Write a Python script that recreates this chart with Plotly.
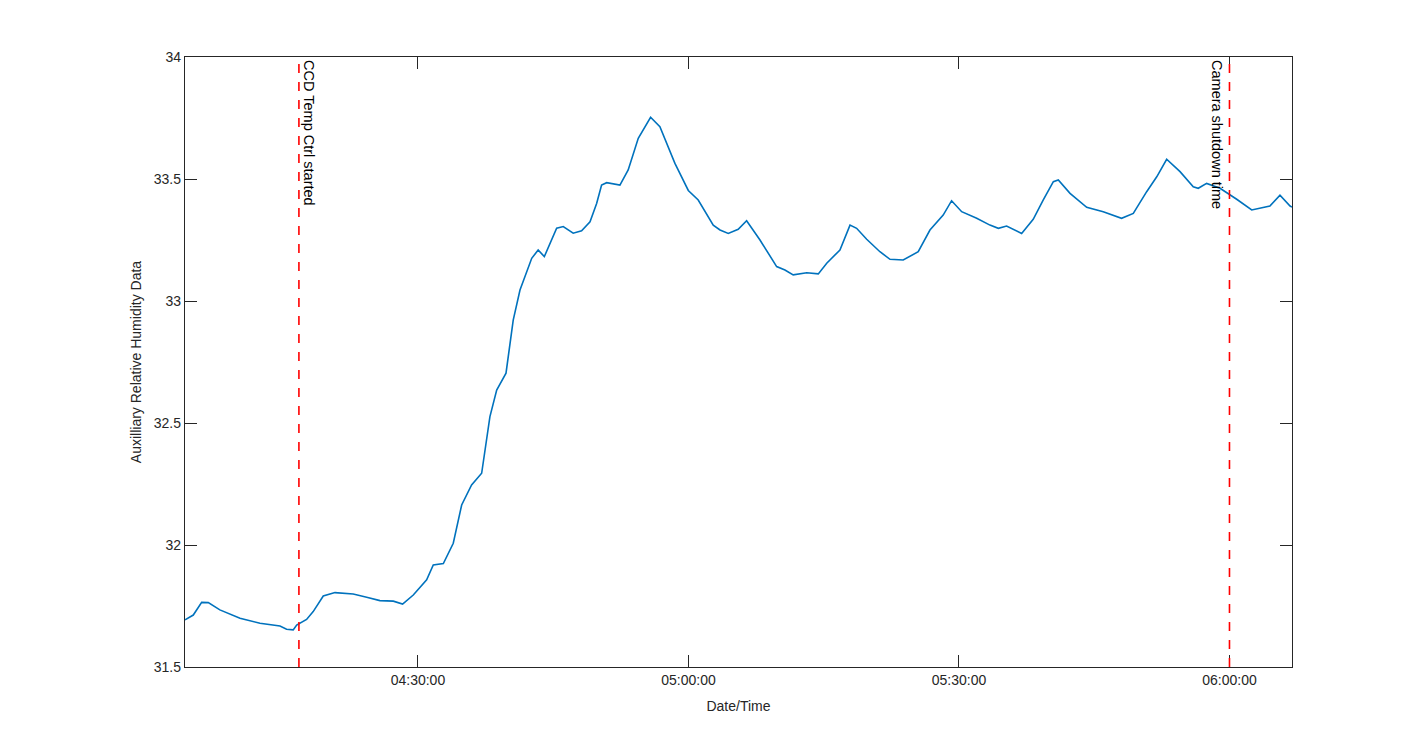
import plotly.graph_objects as go

# humidity readings (time of day, %RH)
times = [
    "04:04:10", "04:05:05", "04:06:01", "04:06:45", "04:08:02", "04:10:16", "04:12:29",
    "04:14:42", "04:15:26", "04:16:10", "04:16:33", "04:17:39", "04:18:23", "04:19:30",
    "04:20:48", "04:22:49", "04:24:19", "04:25:47", "04:27:16", "04:28:18", "04:29:29",
    "04:30:58", "04:31:42", "04:32:49", "04:33:55", "04:34:51", "04:35:57", "04:37:04",
    "04:37:59", "04:38:44", "04:39:46", "04:40:34", "04:41:19", "04:42:37", "04:43:20",
    "04:44:01", "04:45:23", "04:46:07", "04:47:13", "04:48:09", "04:49:05", "04:49:49",
    "04:50:22", "04:50:56", "04:52:24", "04:53:19", "04:54:26", "04:55:48", "04:56:50",
    "04:58:30", "04:59:59", "05:01:05", "05:02:45", "05:03:30", "05:04:25", "05:05:31",
    "05:06:27", "05:07:56", "05:09:47", "05:10:42", "05:11:37", "05:13:07", "05:14:24",
    "05:15:20", "05:16:48", "05:17:55", "05:18:39", "05:19:46", "05:21:14", "05:22:21",
    "05:23:49", "05:25:29", "05:26:47", "05:28:15", "05:29:11", "05:30:18", "05:31:58",
    "05:33:26", "05:34:22", "05:35:17", "05:36:57", "05:38:14", "05:39:21", "05:40:28",
    "05:41:01", "05:42:19", "05:44:10", "05:46:00", "05:48:02", "05:49:20", "05:50:49",
    "05:51:56", "05:53:02", "05:54:31", "05:55:59", "05:56:32", "05:57:28", "05:58:57",
    "06:00:48", "06:02:28", "06:04:29", "06:05:36", "06:06:43", "06:06:56",
]
humidity = [
    31.693, 31.713, 31.765, 31.764, 31.734, 31.700, 31.679,
    31.668, 31.655, 31.652, 31.672, 31.695, 31.727, 31.791,
    31.805, 31.799, 31.786, 31.772, 31.770, 31.758, 31.795,
    31.857, 31.918, 31.924, 32.007, 32.164, 32.246, 32.294,
    32.526, 32.635, 32.704, 32.922, 33.045, 33.175, 33.209,
    33.182, 33.298, 33.305, 33.278, 33.288, 33.325, 33.400,
    33.475, 33.485, 33.475, 33.537, 33.667, 33.753, 33.714,
    33.564, 33.453, 33.414, 33.311, 33.291, 33.277, 33.294,
    33.329, 33.250, 33.141, 33.127, 33.107, 33.116, 33.111,
    33.155, 33.209, 33.311, 33.298, 33.253, 33.202, 33.171,
    33.168, 33.202, 33.291, 33.352, 33.411, 33.366, 33.339,
    33.311, 33.298, 33.307, 33.277, 33.335, 33.414, 33.489,
    33.496, 33.441, 33.384, 33.366, 33.339, 33.359, 33.448,
    33.509, 33.581, 33.530, 33.468, 33.462, 33.482, 33.462,
    33.417, 33.373, 33.389, 33.434, 33.389, 33.385,
]

event_times = ["04:16:48", "06:00:00"]
event_labels = ["CCD Temp Ctrl started", "Camera shutdown time"]
event_sides = ["left", "right"]

day = "2016-01-01 "
x = [day + t for t in times]

axis_col = "#262626"
fnt = dict(family="Liberation Sans, Arial, sans-serif", size=14, color=axis_col)

fig = go.Figure()
fig.add_trace(go.Scatter(x=x, y=humidity, mode="lines",
                         line=dict(color="#0072BD", width=1.6), showlegend=False))

for t, lab, side in zip(event_times, event_labels, event_sides):
    fig.add_shape(type="line", xref="x", yref="paper", x0=day + t, x1=day + t, y0=0, y1=1,
                  line=dict(color="red", width=1.6, dash="dash"))
    fig.add_annotation(x=day + t, y=1, xref="x", yref="paper", text=lab, textangle=90,
                       showarrow=False, xanchor=side, yanchor="top",
                       xshift=0 if side == "left" else -2, yshift=-1,
                       font=dict(family=fnt["family"], size=14.5, color="black"))

fig.update_layout(
    width=1425, height=750,
    margin=dict(l=177, r=141, t=49, b=91),
    paper_bgcolor="white", plot_bgcolor="white",
    font=fnt,
)
fig.update_xaxes(
    range=[day + times[0], day + times[-1]],
    tickformat="%H:%M:%S", dtick=1800000, tick0=day + "04:30:00",
    showline=True, linecolor=axis_col, linewidth=1.3, mirror="ticks",
    ticks="inside", ticklen=12, tickcolor=axis_col, tickwidth=1.3,
    showgrid=False, zeroline=False,
    title=dict(text="Date/Time", font=fnt, standoff=14),
)
fig.update_yaxes(
    range=[31.5, 34], dtick=0.5, tick0=31.5,
    showline=True, linecolor=axis_col, linewidth=1.3, mirror="ticks",
    ticks="inside", ticklen=12, tickcolor=axis_col, tickwidth=1.3,
    showgrid=False, zeroline=False,
    title=dict(text="Auxilliary Relative Humidity Data", font=fnt, standoff=8),
)

fig.write_html("out.html")
